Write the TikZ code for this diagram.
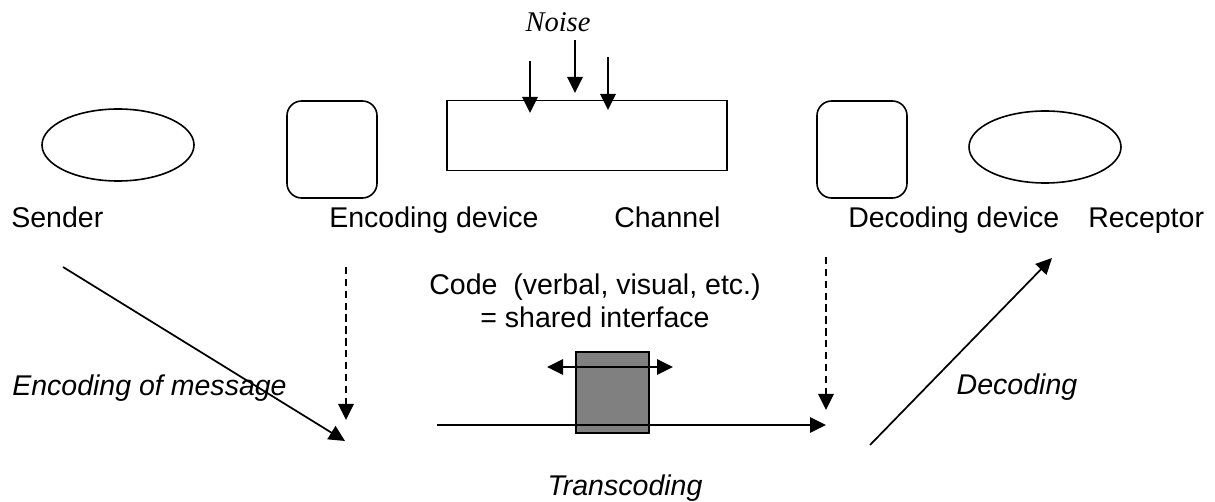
\documentclass[tikz,border=0pt]{standalone}
\usepackage{fontspec}
\setmainfont{Liberation Sans}
\newfontfamily\timesf{Liberation Serif}
\usetikzlibrary{arrows.meta,shapes.geometric}
\begin{document}
\begin{tikzpicture}[x=0.75pt,y=-0.75pt,
  lbl/.style={inner sep=0pt, font=\fontsize{21.4}{24.75}\selectfont},
  ilbl/.style={lbl, font=\fontsize{21.4}{24.75}\selectfont\itshape},
  shp/.style={draw, line width=1.2pt, inner sep=0pt},
  ell/.style={shp, ellipse, minimum width=114pt, minimum height=54pt},
  rbox/.style={shp, rounded corners=11pt, minimum width=67.5pt, minimum height=72.75pt},
  arr/.style={line width=1.3pt, -{Triangle[length=12pt,width=11.5pt]}},
  darr/.style={arr, dash pattern=on 5.5pt off 3.4pt, line width=1.6pt},
  dblarr/.style={line width=1.3pt, {Triangle[length=12pt,width=11.5pt]}-{Triangle[length=12pt,width=11.5pt]}}]
\useasboundingbox (0,0) rectangle (1215,502);
% shapes
\node[ell] (sender) at (118,145) {};
\node[rbox] (encdev) at (332,149.5) {};
\node[shp, minimum width=210pt, minimum height=52.5pt] (channel) at (587,135.5) {};
\node[rbox] (decdev) at (862,149.5) {};
\node[ell] (receptor) at (1045,147) {};
% labels
\node[lbl, anchor=base west] (tsender) at (11,228) {Sender};
\node[lbl, anchor=base west] (tenc) at (329,228) {Encoding device};
\node[lbl, anchor=base west] (tchan) at (614,228) {Channel};
\node[lbl, anchor=base west] (tdec) at (848,228) {Decoding device};
\node[lbl, anchor=base west] (trec) at (1088,228) {Receptor};
\node[inner sep=0pt, anchor=base, font=\fontsize{21.4}{24}\selectfont\timesf\itshape] (noise) at (558,32) {Noise};
\node[lbl, anchor=base, align=center] (code) at (595,328) {Code~~(verbal, visual, etc.)\\= shared interface};
\node[ilbl, anchor=base west] (tencmsg) at (12,396) {Encoding of message};
\node[ilbl, anchor=base] (tdecod) at (1017,395) {Decoding};
\node[ilbl, anchor=base] (ttrans) at (625,496) {Transcoding};
% code box
\node[shp, fill=black!50, minimum width=54.75pt, minimum height=60.75pt] (codebox) at (612.5,392.5) {};
% coordinates
\coordinate (n1a) at (530,61); \coordinate (n1b) at (530,113);
\coordinate (n2a) at (575,40); \coordinate (n2b) at (575,93);
\coordinate (n3a) at (608,57); \coordinate (n3b) at (608,110);
\coordinate (sa) at (63,267); \coordinate (sb) at (345,441);
\coordinate (ea) at (346,267); \coordinate (eb) at (346,420);
\coordinate (ha) at (437,425); \coordinate (hb) at (826,425);
\coordinate (da) at (826,257); \coordinate (db) at (826,410);
\coordinate (ra) at (870,445); \coordinate (rb) at (1052,258);
\coordinate (ca) at (547,367); \coordinate (cb) at (673,367);
% connectors
\draw[arr] (n1a) -- (n1b);
\draw[arr] (n2a) -- (n2b);
\draw[arr] (n3a) -- (n3b);
\draw[arr] (sa) -- (sb);
\draw[darr] (ea) -- (eb);
\draw[arr] (ha) -- (hb);
\draw[darr] (da) -- (db);
\draw[arr] (ra) -- (rb);
\draw[dblarr] (ca) -- (cb);
\end{tikzpicture}
\end{document}
